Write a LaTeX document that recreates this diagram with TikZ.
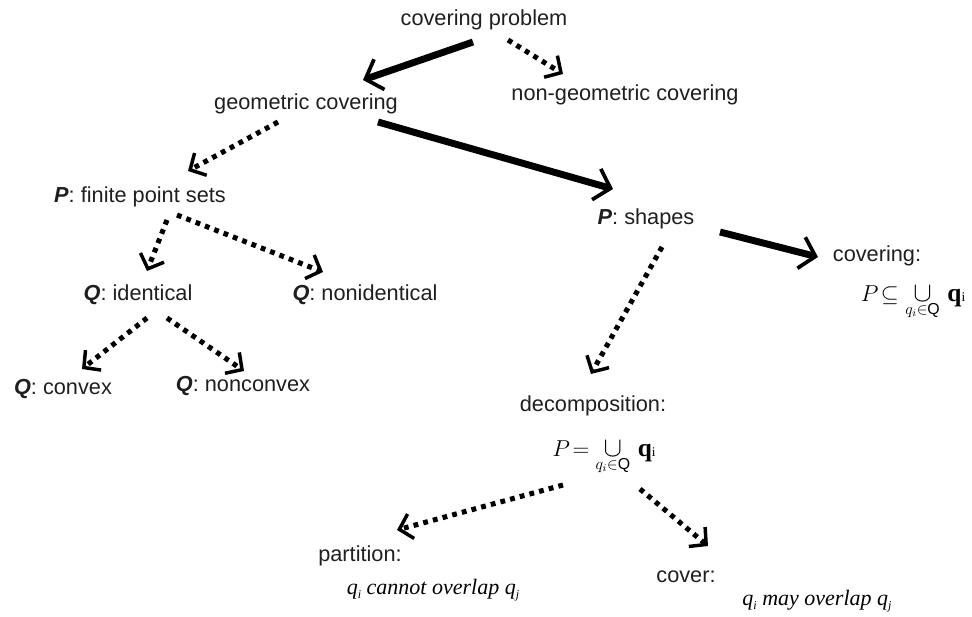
\documentclass[tikz,border=0pt]{standalone}
\usepackage{fontspec}
\setmainfont{Liberation Sans}
\newfontfamily\seriffam{Liberation Serif}
\usetikzlibrary{arrows.meta}
\newcommand{\bi}[1]{\textbf{\textit{#1}}}
\newcommand{\sbs}[1]{\raisebox{-0.45ex}{\small #1}}
\newcommand{\bq}{\mbox{\seriffam\bfseries\fontsize{19}{20}\selectfont q}\mbox{\seriffam\fontsize{10}{11}\selectfont i}}
\newcommand{\bigcupx}{\mathop{\mbox{\fontsize{20}{20}\selectfont$\cup$}}\limits_{\raisebox{-2pt}{$\scriptstyle q_i\in \mathrm{Q}$}}\,}
\begin{document}
\begin{tikzpicture}[x=0.75pt,y=-0.75pt,
  lbl/.style={inner sep=1pt,font=\fontsize{16.3}{19}\selectfont,text=black!88},
  frm/.style={inner sep=1pt,font=\fontsize{17}{20}\selectfont},
  itx/.style={inner sep=1pt,font=\fontsize{16.5}{19}\selectfont\seriffam\itshape},
  solidarr/.style={line width=5.2pt,-{Straight Barb[length=11pt,width=24pt,line width=2.8pt]}},
  dotarr/.style={line width=3.8pt,dash pattern=on 3.6pt off 3.9pt,-{Straight Barb[length=9pt,width=19pt,line width=2.6pt]}}]
\useasboundingbox (0,0) rectangle (972,617);
% nodes
\node[lbl] (cp) at (484,20) {covering problem};
\node[lbl] (ngc) at (625,95) {non-geometric covering};
\node[lbl] (gc) at (306,104) {geometric covering};
\node[lbl] (pf) at (140,197) {\bi{P}: finite point sets};
\node[lbl] (ps) at (646,219) {\bi{P}: shapes};
\node[lbl] (cov) at (877,256) {covering:};
\node[frm] (cf) at (913,302) {$P\!\subseteq \bigcupx \bq$};
\node[lbl] (qid) at (138,295) {\bi{Q}: identical};
\node[lbl] (qnid) at (365,295) {\bi{Q}: nonidentical};
\node[lbl] (qc) at (63,389) {\bi{Q}: convex};
\node[lbl] (qnc) at (243,386) {\bi{Q}: nonconvex};
\node[lbl] (dec) at (593,406) {decomposition:};
\node[frm] (df) at (604,457) {$P\!= \bigcupx \bq$};
\node[lbl] (par) at (360,556) {partition:};
\node[itx] (part) at (433,590) {q\sbs{i} cannot overlap q\sbs{j}};
\node[lbl] (cvr) at (686,577) {cover:};
\node[itx] (cvrt) at (817,601) {q\sbs{i} may overlap q\sbs{j}};
% connector end points
\coordinate (a1s) at (473,42); \coordinate (a1e) at (363,80);
\coordinate (a2s) at (508,40); \coordinate (a2e) at (563,74);
\coordinate (a3s) at (278,122); \coordinate (a3e) at (188,171);
\coordinate (a4s) at (378,122); \coordinate (a4e) at (613,189);
\coordinate (a5s) at (167,220); \coordinate (a5e) at (147,271);
\coordinate (a6s) at (177,215); \coordinate (a6e) at (323,272);
\coordinate (a7s) at (147,318); \coordinate (a7e) at (82,369);
\coordinate (a8s) at (167,318); \coordinate (a8e) at (244,371);
\coordinate (a9s) at (720,232); \coordinate (a9e) at (818,257);
\coordinate (a10s) at (662,247); \coordinate (a10e) at (591,374);
\coordinate (a11s) at (563,485); \coordinate (a11e) at (397,530);
\coordinate (a12s) at (640,489); \coordinate (a12e) at (708,546);
% connectors
\draw[solidarr] (a1s) -- (a1e);
\draw[dotarr] (a2s) -- (a2e);
\draw[dotarr] (a3s) -- (a3e);
\draw[solidarr] (a4s) -- (a4e);
\draw[dotarr] (a5s) -- (a5e);
\draw[dotarr] (a6s) -- (a6e);
\draw[dotarr] (a7s) -- (a7e);
\draw[dotarr] (a8s) -- (a8e);
\draw[solidarr] (a9s) -- (a9e);
\draw[dotarr] (a10s) -- (a10e);
\draw[dotarr] (a11s) -- (a11e);
\draw[dotarr] (a12s) -- (a12e);
\end{tikzpicture}
\end{document}
